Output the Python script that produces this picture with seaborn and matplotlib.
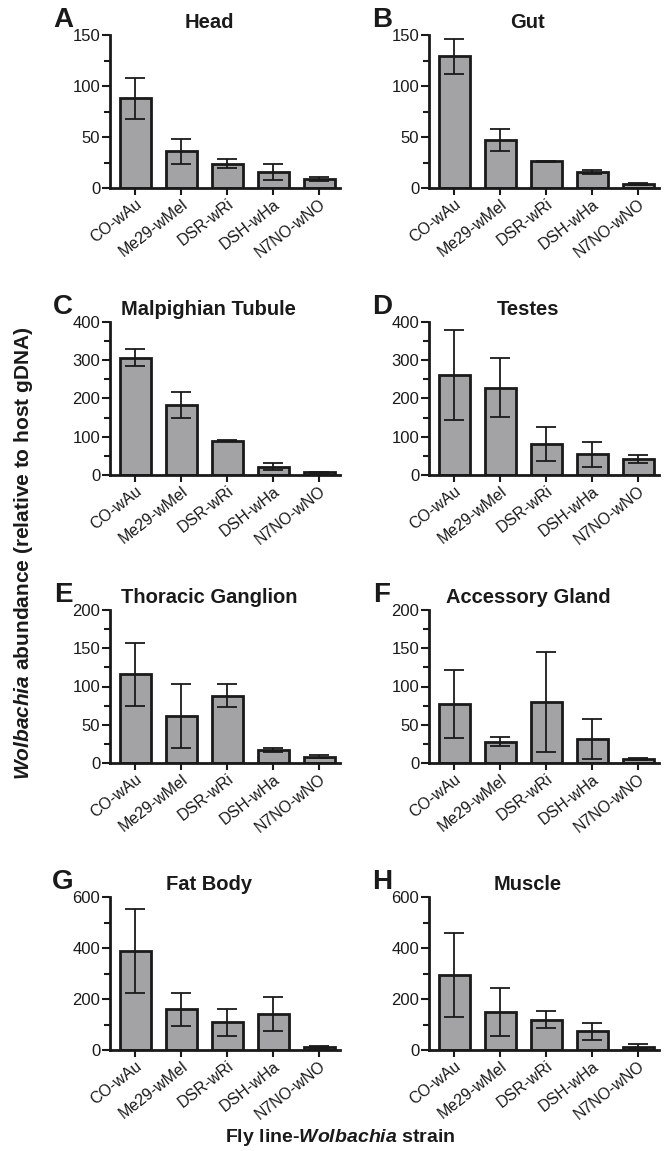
import numpy as np
import matplotlib
matplotlib.use("Agg")
import matplotlib.pyplot as plt
import seaborn as sns
import pandas as pd

# Data
strains = ["CO-wAu", "Me29-wMel", "DSR-wRi", "DSH-wHa", "N7NO-wNO"]

head_mean = [88, 36, 24, 16, 9]
head_err = [20, 12.5, 4, 8, 2]
gut_mean = [129, 47, 26, 16, 4]
gut_err = [17, 11, 0.5, 2, 1]
malp_mean = [307, 183, 90, 22, 7]
malp_err = [22, 35, 2, 10, 2]
testes_mean = [262, 228, 81, 54, 42]
testes_err = [117, 77, 44, 32, 10]
thor_mean = [116, 61, 88, 17, 8]
thor_err = [41, 42, 15, 3, 2]
acc_mean = [77, 28, 80, 31, 5]
acc_err = [44, 6, 65, 26, 1.5]
fat_mean = [388, 160, 108, 140, 12]
fat_err = [163, 64, 53, 67, 3]
muscle_mean = [293, 148, 118, 73, 13]
muscle_err = [165, 95, 33, 34, 10]

panels = [
    ("A", "Head", head_mean, head_err, 150, 50),
    ("B", "Gut", gut_mean, gut_err, 150, 50),
    ("C", "Malpighian Tubule", malp_mean, malp_err, 400, 100),
    ("D", "Testes", testes_mean, testes_err, 400, 100),
    ("E", "Thoracic Ganglion", thor_mean, thor_err, 200, 50),
    ("F", "Accessory Gland", acc_mean, acc_err, 200, 50),
    ("G", "Fat Body", fat_mean, fat_err, 600, 200),
    ("H", "Muscle", muscle_mean, muscle_err, 600, 200),
]

sns.set_style("ticks")
plt.rcParams["font.family"] = ["Liberation Sans", "DejaVu Sans"]
plt.rcParams["mathtext.fontset"] = "custom"
plt.rcParams["mathtext.rm"] = "Liberation Sans:bold"
plt.rcParams["mathtext.it"] = "Liberation Sans:bold:italic"
plt.rcParams["mathtext.bf"] = "Liberation Sans:bold"

W, H = 664, 1151
fig = plt.figure(figsize=(W / 100, H / 100), dpi=100)

# pixel layout: (left, top) of each axes
lefts = [110, 429]
tops = [35, 322, 610, 897]
ax_w, ax_h = 230, 153

for i, (letter, title, mean, err, ymax, step) in enumerate(panels):
    col = i % 2
    row = i // 2
    l, t = lefts[col], tops[row]
    ax = fig.add_axes([l / W, 1 - (t + ax_h) / H, ax_w / W, ax_h / H])
    df = pd.DataFrame({"strain": strains, "value": mean})
    sns.barplot(data=df, x="strain", y="value", ax=ax, color="#a3a3a5",
                saturation=1, width=0.68, edgecolor="#1a1a1a", linewidth=2.0,
                errorbar=None)
    ax.errorbar(np.arange(len(strains)), mean, yerr=err, fmt="none",
                ecolor="#1a1a1a", elinewidth=1.3, capsize=7, capthick=1.3)
    ax.set_xlim(-0.55, 4.45)
    ax.set_ylim(0, ymax)
    ax.set_yticks(np.arange(0, ymax + 1, step))
    ax.set_yticks(np.arange(step / 2, ymax, step), minor=True)
    ax.set_xlabel("")
    ax.set_ylabel("")
    sns.despine(ax=ax)
    for s in ["left", "bottom"]:
        ax.spines[s].set_linewidth(2.0)
        ax.spines[s].set_color("#1a1a1a")
    ax.tick_params(axis="y", which="major", length=6, width=1.5, labelsize=12,
                   colors="#1a1a1a", pad=1)
    ax.tick_params(axis="y", which="minor", length=4, width=1.5,
                   colors="#1a1a1a")
    ax.tick_params(axis="x", which="major", length=5, width=1.5, labelsize=11.5,
                   colors="#1a1a1a", pad=1)
    plt.setp(ax.get_xticklabels(), rotation=38, ha="right",
             rotation_mode="anchor")
    ax.set_title(title, fontsize=14.5, fontweight="bold", x=0.43, pad=5,
                 color="#1a1a1a")
    fig.text((l - 47) / W, 1 - (t - 15) / H, letter, fontsize=20,
             fontweight="bold", ha="center", va="center", color="#1a1a1a")

fig.text(24 / W, 1 - 553 / H, r"$\mathit{Wolbachia}$ abundance (relative to host gDNA)",
         rotation=90, fontsize=15, fontweight="bold", ha="center", va="center",
         color="#1a1a1a")
fig.text(340 / W, 1 - 1137 / H, r"Fly line-$\mathit{Wolbachia}$ strain",
         fontsize=14, fontweight="bold", ha="center", va="center",
         color="#1a1a1a")

fig.savefig("out.png", dpi=100)
